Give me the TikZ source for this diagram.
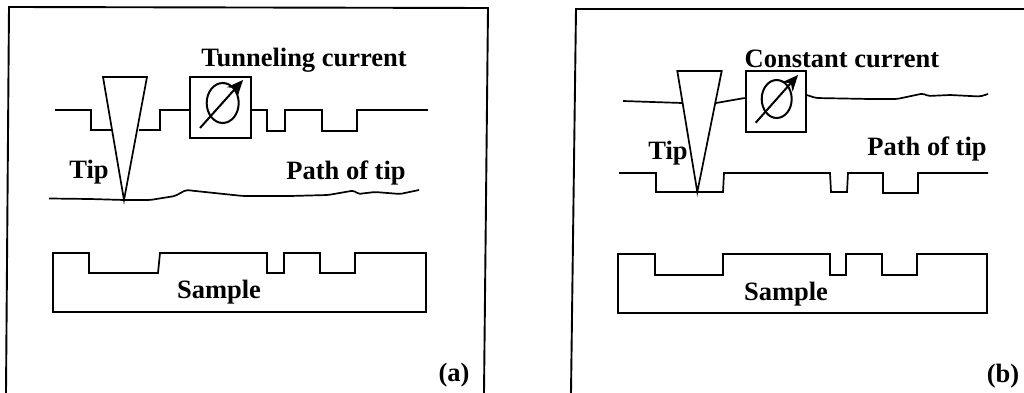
\documentclass[tikz,border=0pt]{standalone}
\usepackage{fontspec}
\setmainfont{Liberation Serif}
\usetikzlibrary{arrows.meta}
\tikzstyle{frame}=[draw=black, line width=1.9pt]
\tikzstyle{wire}=[draw=black, line width=1.7pt]
\tikzstyle{wavy}=[draw=black, line width=1.7pt, rounded corners=2pt]
\tikzstyle{meter}=[rectangle, draw=black, fill=white, line width=1.9pt, inner sep=0pt]
\tikzstyle{tiptri}=[draw=black, fill=white, line width=1.7pt, line join=miter]
\tikzstyle{needle}=[draw=black, line width=2pt, -{Stealth[length=16pt,width=14pt]}]
\tikzstyle{label}=[font=\fontsize{26.5}{26.5}\selectfont\bfseries, inner sep=0pt]
\begin{document}
\begin{tikzpicture}[x=1pt, y=-1pt]
	\useasboundingbox (0, 0) rectangle (1024, 393);
	% panel a
	\coordinate (a1) at (6, 393);
	\coordinate (a2) at (9, 7);
	\coordinate (a3) at (488, 8);
	\coordinate (a4) at (484, 393);
	\draw [style=frame] (a1) to (a2) to (a3) to (a4);
	\node [style=meter, minimum width=61pt, minimum height=61pt] (ma) at (220.5, 107.5) {};
	\draw [style=wire] (55, 110) -- (91, 110) -- (91, 130) -- (112, 130);
	\draw [style=wire] (139, 130) -- (160, 130) -- (160, 110) -- (ma.west |- 0, 110);
	\draw [style=wire] (ma.east |- 0, 110) -- (267, 110) -- (267, 131) -- (285, 131) -- (285, 110) -- (322, 110) -- (322, 131) -- (357, 131) -- (357, 110) -- (428, 110);
	\coordinate (ta) at (124, 200);
	\draw [style=tiptri] (103, 77) -- (147, 77) -- (ta) -- cycle;
	\draw [style=wavy] (49, 198.5) -- (90, 199) -- (ta) -- (150, 200) -- (175, 196) -- (186, 190) -- (200, 191.5) -- (243, 196) -- (290, 196) -- (328, 195) -- (354, 190.5) -- (358, 194) -- (375, 192) -- (400, 194) -- (419, 190);
	\draw [style=wire] (53, 312) -- (53, 253) -- (89, 253) -- (89, 273) -- (158, 273) -- (160, 253) -- (267, 253) -- (267, 273) -- (284, 273) -- (284, 253) -- (320, 253) -- (320, 273) -- (355, 273) -- (355, 253) -- (426, 253) -- (426, 312) -- cycle;
	\draw [line width=2pt] (222.7, 103) ellipse (16 and 20);
	\draw [style=needle] (200, 128) -- (243, 80);
	\node [style=label] (tca) at (304, 60) {Tunneling current};
	\node [style=label] (tipa) at (89, 172) {Tip};
	\node [style=label] (patha) at (346, 173) {Path of tip};
	\node [style=label] (sa) at (219, 292) {Sample};
	\node [style=label] (la) at (454, 375) {(a)};
	% panel b
	\coordinate (b1) at (571, 393);
	\coordinate (b2) at (576, 9);
	\coordinate (b3) at (1024, 9);
	\draw [style=frame] (b1) to (b2) to (b3);
	\node [style=meter, minimum width=60pt, minimum height=61pt] (mb) at (775.7, 101.5) {};
	\draw [style=wire] (623, 101) -- (682, 103);
	\draw [style=wire] (716, 103) -- (mb.west |- 0, 98);
	\draw [style=wavy] (mb.east |- 0, 95) -- (816, 98) -- (870, 99) -- (897, 99) -- (923, 93.5) -- (928, 96) -- (950, 95) -- (980, 96.5) -- (988, 94);
	\coordinate (tb) at (697.3, 192);
	\draw [style=tiptri] (677.3, 71) -- (721.7, 71) -- (tb) -- cycle;
	\draw [style=wire] (619, 173) -- (656, 173) -- (656, 192) -- (tb) -- (723, 192) -- (724, 173) -- (830, 173) -- (831, 192) -- (847, 192) -- (848, 173) -- (883, 173) -- (883, 193) -- (918, 193) -- (918, 173) -- (988, 173);
	\draw [style=wire] (618, 313) -- (618, 254) -- (655, 254) -- (655, 275) -- (723, 275) -- (723, 254) -- (830, 254) -- (830, 275) -- (846, 275) -- (846, 254) -- (882, 254) -- (882, 275) -- (917, 275) -- (917, 254) -- (987, 254) -- (987, 313) -- cycle;
	\draw [line width=2pt] (776.7, 99) ellipse (15 and 19);
	\draw [style=needle] (755.7, 122.7) -- (798, 75);
	\node [style=label] (tcb) at (842, 59) {Constant current};
	\node [style=label] (tipb) at (668, 153) {Tip};
	\node [style=label] (pathb) at (927, 149) {Path of tip};
	\node [style=label] (sb) at (786, 294) {Sample};
	\node [style=label] (lb) at (1003, 376) {(b)};
\end{tikzpicture}
\end{document}
